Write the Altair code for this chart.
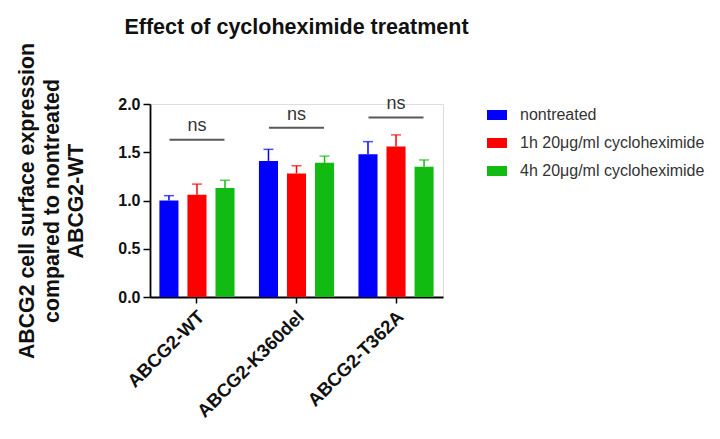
import altair as alt
import pandas as pd

groups = ["ABCG2-WT", "ABCG2-K360del", "ABCG2-T362A"]
series = ["nontreated", "1h 20μg/ml cycloheximide", "4h 20μg/ml cycloheximide"]
colors = ["#0000FF", "#FF0000", "#11BB11"]

mean_nontreated = [1.00, 1.41, 1.48]
mean_1h = [1.06, 1.28, 1.56]
mean_4h = [1.13, 1.39, 1.35]
err_nontreated = [0.05, 0.12, 0.13]
err_1h = [0.11, 0.08, 0.12]
err_4h = [0.08, 0.07, 0.07]

ns_line_y = [1.63, 1.755, 1.86]
ns_text_y = [1.77, 1.89, 2.0]
ns_label = ["ns", "ns", "ns"]

rows = []
for s, m, e in zip(series, [mean_nontreated, mean_1h, mean_4h], [err_nontreated, err_1h, err_4h]):
    for g, mv, ev in zip(groups, m, e):
        rows.append({"group": g, "series": s, "mean": mv, "upper": mv + ev})
df = pd.DataFrame(rows)
ns_df = pd.DataFrame({"group": groups, "line": ns_line_y, "text": ns_text_y, "label": ns_label})

FONT = "Liberation Sans"

x_enc = alt.X("group:N", sort=groups,
              scale=alt.Scale(paddingInner=0.2, paddingOuter=0.072),
              axis=alt.Axis(title=None, labelAngle=-45, labelFontSize=18.5, labelFontWeight="bold",
                            labelColor="#111", labelAlign="right", labelBaseline="top",
                            labelPadding=4, labelOffset=-2, tickSize=6, tickWidth=1.5, tickColor="#000",
                            domainColor="#000", domainWidth=1.8, labelFont=FONT, labelLimit=0))
xoff = alt.XOffset("series:N", sort=series, scale=alt.Scale(paddingInner=0.32, paddingOuter=0.08))
y_scale = alt.Scale(domain=[0, 2], nice=False)

color = alt.Color("series:N", sort=series, scale=alt.Scale(domain=series, range=colors),
                  legend=alt.Legend(title=None, orient="none", legendX=337, legendY=1,
                                    symbolType="M-1,-0.5H1V0.5H-1Z", symbolSize=400,
                                    symbolStrokeWidth=0, labelFontSize=16, labelFont=FONT,
                                    labelColor="#333", labelOffset=13, rowPadding=10, padding=0,
                                    labelLimit=400))

bars = alt.Chart(df).mark_bar().encode(
    x=x_enc, xOffset=xoff,
    y=alt.Y("mean:Q", scale=y_scale,
            axis=alt.Axis(values=[0, 0.5, 1, 1.5, 2], format=".1f", grid=False,
                          title=["ABCG2 cell surface expression", "compared to nontreated", "ABCG2-WT"],
                          titleFontSize=21.3, titleFontWeight="bold", titleFont=FONT, titleColor="#111",
                          titleLineHeight=24.5, titlePadding=31,
                          labelFontSize=16, labelFontWeight="bold", labelFont=FONT, labelColor="#111",
                          tickSize=7, tickWidth=1.5, tickColor="#000",
                          domainColor="#000", domainWidth=1.8, labelPadding=3)),
    color=color,
)

err_rule = alt.Chart(df).mark_rule(strokeWidth=1.5).encode(
    x=alt.X("group:N", sort=groups), xOffset=alt.XOffset("series:N", sort=series),
    y=alt.Y("mean:Q", scale=y_scale), y2="upper:Q",
    color=alt.Color("series:N", sort=series, legend=None),
)
err_cap = alt.Chart(df).mark_tick(size=10, thickness=1.5).encode(
    x=alt.X("group:N", sort=groups), xOffset=alt.XOffset("series:N", sort=series),
    y=alt.Y("upper:Q", scale=y_scale),
    color=alt.Color("series:N", sort=series, legend=None),
)

ns_line = alt.Chart(ns_df).mark_tick(size=55, thickness=2, color="#111", orient="horizontal").encode(
    x=alt.X("group:N", sort=groups), y=alt.Y("line:Q", scale=y_scale),
)
ns_text = alt.Chart(ns_df).mark_text(fontSize=18, font=FONT, color="#333", baseline="middle").encode(
    x=alt.X("group:N", sort=groups), y=alt.Y("text:Q", scale=y_scale), text="label:N",
)

chart = alt.layer(bars, err_rule, err_cap, ns_line, ns_text).properties(
    width=293, height=193,
    title=alt.TitleParams("Effect of cycloheximide treatment", fontSize=21.5, fontWeight="bold",
                          font=FONT, color="#111", anchor="middle", offset=4),
    autosize=alt.AutoSizeParams(type="none"),
    padding={"left": 142, "top": 96, "right": 269, "bottom": 134},
).configure_view(stroke=None).configure(background="white")

chart.save("out.html", embed_options={"renderer": "svg", "actions": False})
